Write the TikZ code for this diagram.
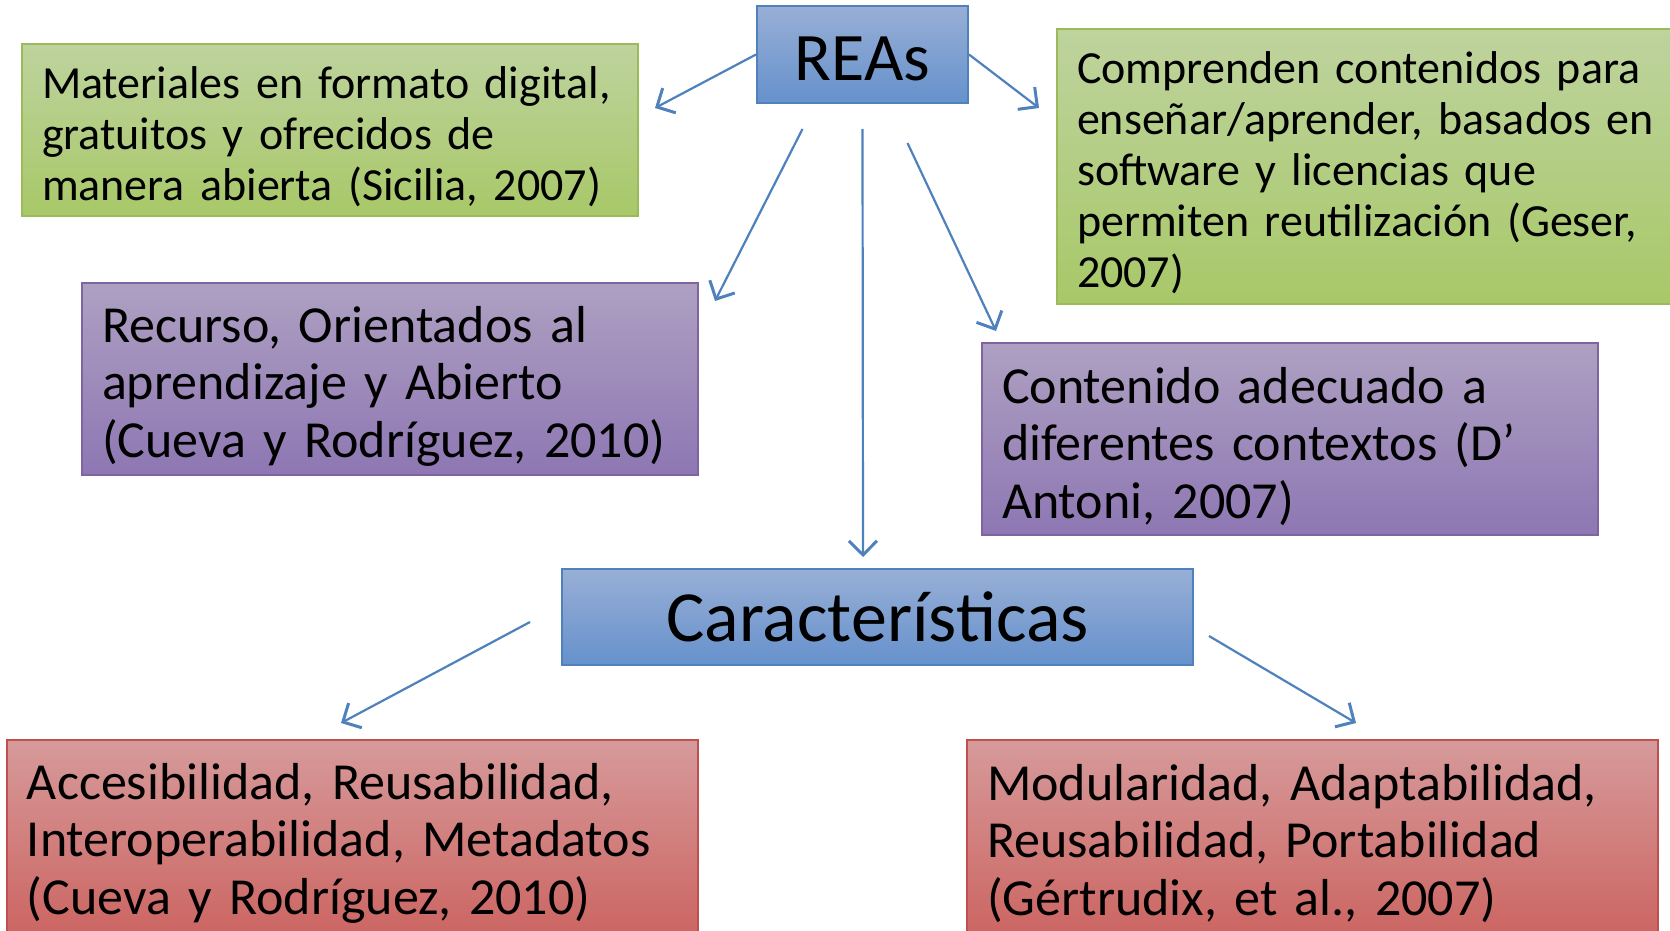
\documentclass[tikz,border=0pt]{standalone}
\usepackage{fontspec}
\setmainfont{Carlito}
\usepackage{tikz}
\usetikzlibrary{arrows.meta,calc}

\definecolor{realine}{HTML}{4F81BD}
\definecolor{bluetop}{HTML}{98AFD6}
\definecolor{bluebot}{HTML}{6691CC}
\definecolor{greenline}{HTML}{9BBB59}
\definecolor{greentop}{HTML}{BED39E}
\definecolor{greenbot}{HTML}{A8C868}
\definecolor{purpleline}{HTML}{8064A2}
\definecolor{purpletop}{HTML}{AEA0C2}
\definecolor{purplebot}{HTML}{8E77B3}
\definecolor{redline}{HTML}{C0504D}
\definecolor{redtop}{HTML}{D69A9A}
\definecolor{redbot}{HTML}{CC6663}

\tikzset{
	box/.style={line width=2pt, align=left, inner xsep=20pt, inner ysep=0pt, execute at begin node={\rule{0pt}{0.97em}}},
	bluebox/.style={draw=realine, top color=bluetop, bottom color=bluebot, line width=2pt, inner sep=0pt},
	greenbox/.style={box, draw=greenline, top color=greentop, bottom color=greenbot, font=\fontsize{46}{51}\selectfont},
	purplebox/.style={box, draw=purpleline, top color=purpletop, bottom color=purplebot, font=\fontsize{52}{57.5}\selectfont},
	redbox/.style={box, draw=redline, top color=redtop, bottom color=redbot, font=\fontsize{52}{57.5}\selectfont},
	arr/.style={draw=realine, line width=2.2pt, -{Straight Barb[length=14pt,width=28pt,line width=3pt]}}
}

\begin{document}
\begin{tikzpicture}[x=1pt, y=-1pt]
	\clip (0,0) rectangle (1670,931);
	\fill[white] (0,0) rectangle (1670,931);
	\node[bluebox, minimum width=211pt, minimum height=97pt, text height=52pt, text depth=0pt, font=\fontsize{68}{68}\selectfont] (rea) at (862.5,54.5) {REAs};
	\node[greenbox, text width=576pt, minimum height=172pt] (gl) at (330,130) {Materiales en formato digital,\\gratuitos y ofrecidos de\\manera abierta (Sicilia, 2007)};
	\node[greenbox, text width=620pt, minimum height=275pt] (gr) at (1387,166.5) {Comprenden contenidos para\\enseñar/aprender, basados en\\software y licencias que\\permiten reutilización (Geser,\\2007)};
	\node[purplebox, text width=576pt, minimum height=192pt] (pl) at (390,379) {Recurso, Orientados al\\aprendizaje y Abierto\\(Cueva y Rodríguez, 2010)};
	\node[purplebox, text width=576pt, minimum height=192pt] (pr) at (1290,439) {Contenido adecuado a\\diferentes contextos (D’\\Antoni, 2007)};
	\node[bluebox, minimum width=631pt, minimum height=96pt, font=\fontsize{72}{72}\selectfont] (car) at (877.5,617) {Características};
	\node[redbox, text width=651pt, minimum height=192pt] (rl) at (352.5,836) {Accesibilidad, Reusabilidad,\\Interoperabilidad, Metadatos\\(Cueva y Rodríguez, 2010)};
	\node[redbox, text width=651pt, minimum height=192pt] (rr) at (1312.5,836) {Modularidad, Adaptabilidad,\\Reusabilidad, Portabilidad\\(Gértrudix, et al., 2007)};
	\draw[arr] (rea.west) -- ($(gl.east)+(16,-22)$);
	\draw[arr] (rea.east) -- ($(gr.west)+(-17,-58.5)$);
	\draw[arr] ($(rea.south)+(-60,25)$) -- ($(pl.north east)+(16,19)$);
	\draw[arr] ($(rea.south)+(0,25)$) -- ($(car.north)+(-14.5,-11)$);
	\draw[arr] ($(rea.south)+(45,39)$) -- ($(pr.north west)+(15,-11)$);
	\draw[arr] ($(car.west)+(-31,5)$) -- ($(rl.north)+(-11.5,-16)$);
	\draw[arr] ($(car.east)+(15,19)$) -- ($(rr.north)+(43.5,-16)$);
\end{tikzpicture}
\end{document}
